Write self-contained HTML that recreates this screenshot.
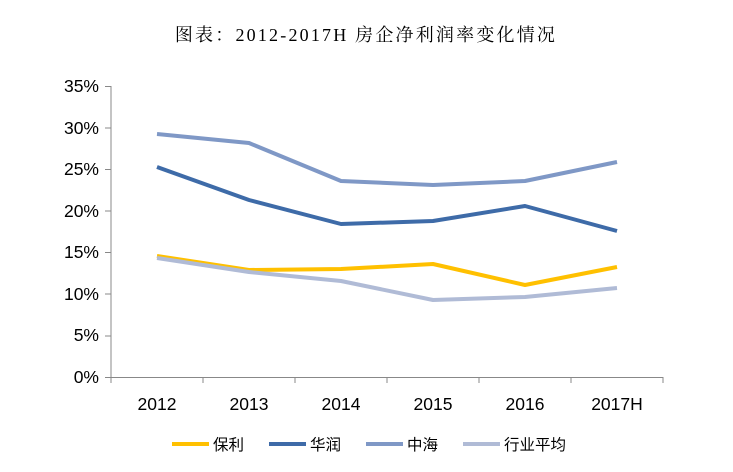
<!DOCTYPE html>
<html><head><meta charset="utf-8"><style>
body{margin:0;background:#fff;}
svg{display:block;}
text{font-family:"Liberation Sans","Noto Sans CJK SC",sans-serif;fill:#000;}
</style></head><body>
<svg width="733" height="472" viewBox="0 0 733 472" xmlns="http://www.w3.org/2000/svg">
<text x="366" y="41" text-anchor="middle" style="font-family:'Liberation Serif','Noto Serif CJK SC',serif;font-size:18px;letter-spacing:2.2px">图表：2012-2017H 房企净利润率变化情况</text>
<g font-size="17.5" text-anchor="end">
<text x="99" y="383">0%</text>
<text x="99" y="341">5%</text>
<text x="99" y="300">10%</text>
<text x="99" y="258">15%</text>
<text x="99" y="217">20%</text>
<text x="99" y="175">25%</text>
<text x="99" y="134">30%</text>
<text x="99" y="92">35%</text>
</g>
<line x1="111" y1="86" x2="111" y2="377" stroke="#888" stroke-width="1"/>
<line x1="111" y1="377.5" x2="663" y2="377.5" stroke="#888" stroke-width="1"/>
<g stroke="#888">
<line x1="105" y1="86.5" x2="111" y2="86.5"/><line x1="105" y1="128" x2="111" y2="128"/><line x1="105" y1="169.5" x2="111" y2="169.5"/><line x1="105" y1="211" x2="111" y2="211"/><line x1="105" y1="252.5" x2="111" y2="252.5"/><line x1="105" y1="294" x2="111" y2="294"/><line x1="105" y1="336" x2="111" y2="336"/><line x1="105" y1="377.5" x2="111" y2="377.5"/>
<line x1="111" y1="377" x2="111" y2="383"/><line x1="203" y1="377" x2="203" y2="383"/><line x1="295" y1="377" x2="295" y2="383"/><line x1="387" y1="377" x2="387" y2="383"/><line x1="479" y1="377" x2="479" y2="383"/><line x1="571" y1="377" x2="571" y2="383"/><line x1="663" y1="377" x2="663" y2="383"/>
</g>
<g font-size="17.5" text-anchor="middle">
<text x="157" y="410">2012</text><text x="249" y="410">2013</text><text x="341" y="410">2014</text><text x="433" y="410">2015</text><text x="525" y="410">2016</text><text x="617" y="410">2017H</text>
</g>
<g fill="none" stroke-width="4" stroke-linejoin="round">
<polyline stroke="#FFC000" points="157,256 249,270 341,269 433,264 525,285 617,267"/>
<polyline stroke="#3E6BA8" points="157,167 249,200 341,224 433,221 525,206 617,231"/>
<polyline stroke="#7F98C6" points="157,134 249,143 341,181 433,185 525,181 617,162"/>
<polyline stroke="#B0BBD6" points="157,258 249,272 341,281 433,300 525,297 617,288"/>
</g>
<g font-size="15.5">
<line x1="172" y1="444" x2="209" y2="444" stroke="#FFC000" stroke-width="4"/><text x="213" y="450">保利</text>
<line x1="269" y1="444" x2="306" y2="444" stroke="#3E6BA8" stroke-width="4"/><text x="310" y="450">华润</text>
<line x1="366" y1="444" x2="403" y2="444" stroke="#7F98C6" stroke-width="4"/><text x="407" y="450">中海</text>
<line x1="463" y1="444" x2="500" y2="444" stroke="#B0BBD6" stroke-width="4"/><text x="504" y="450">行业平均</text>
</g>
</svg>
</body></html>
